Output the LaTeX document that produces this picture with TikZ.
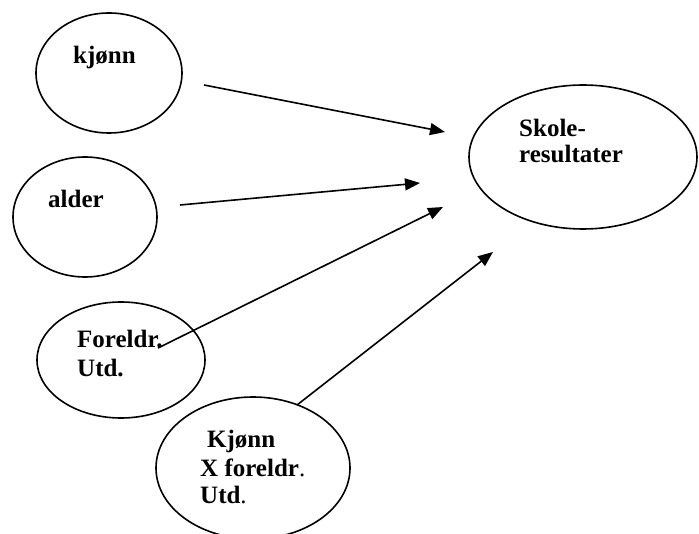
\documentclass[tikz,border=0pt]{standalone}
\usepackage{fontspec}
\setmainfont{Liberation Serif}
\usetikzlibrary{shapes.geometric,arrows.meta}

\tikzset{
  var/.style = {draw, ellipse, line width=1.6pt, inner sep=0pt},
  lbl/.style = {anchor=base west, inner sep=0pt, font=\fontsize{25}{28}\selectfont\bfseries},
  pil/.style = {line width=1.6pt, -{Triangle[length=15pt,width=12pt]}}
}

\begin{document}
\begin{tikzpicture}[x=1pt, y=-1pt]
\useasboundingbox (0,0) rectangle (699,534);
% ellipses
\node[var, minimum width=146pt, minimum height=120pt] (kjonn) at (109,73) {};
\node[var, minimum width=144pt, minimum height=120pt] (alder) at (85,217) {};
\node[var, minimum width=168pt, minimum height=116pt] (foreldr) at (121,360) {};
\node[var, minimum width=194pt, minimum height=142pt] (kxf) at (253,468) {};
\node[var, minimum width=228pt, minimum height=144pt] (skole) at (583,157) {};
% labels
\node[lbl] (kjonn-t) at (73,64) {kjønn};
\node[lbl] (alder-t) at (48,208) {alder};
\node[lbl] (foreldr-t1) at (77,348) {Foreldr.};
\node[lbl] (foreldr-t2) at (77,377) {Utd.};
\node[lbl] (kxf-t1) at (207,448) {Kjønn};
\node[lbl] (kxf-t2) at (200,476) {X foreldr\mdseries.};
\node[lbl] (kxf-t3) at (200,503) {Utd\mdseries.};
\node[lbl] (skole-t1) at (519,137) {Skole-};
\node[lbl] (skole-t2) at (519,163) {resultater};
% arrow ends
\coordinate (k-s) at (204,85);
\coordinate (k-e) at (445,132);
\coordinate (a-s) at (180,205);
\coordinate (a-e) at (420,183);
\coordinate (f-s) at (158,348);
\coordinate (f-e) at (443,207);
\coordinate (x-s) at (297,405);
\coordinate (x-e) at (493,252);
% arrows
\draw[pil] (k-s) -- (k-e);
\draw[pil] (a-s) -- (a-e);
\draw[pil] (f-s) -- (f-e);
\draw[pil] (x-s) -- (x-e);
\end{tikzpicture}
\end{document}
